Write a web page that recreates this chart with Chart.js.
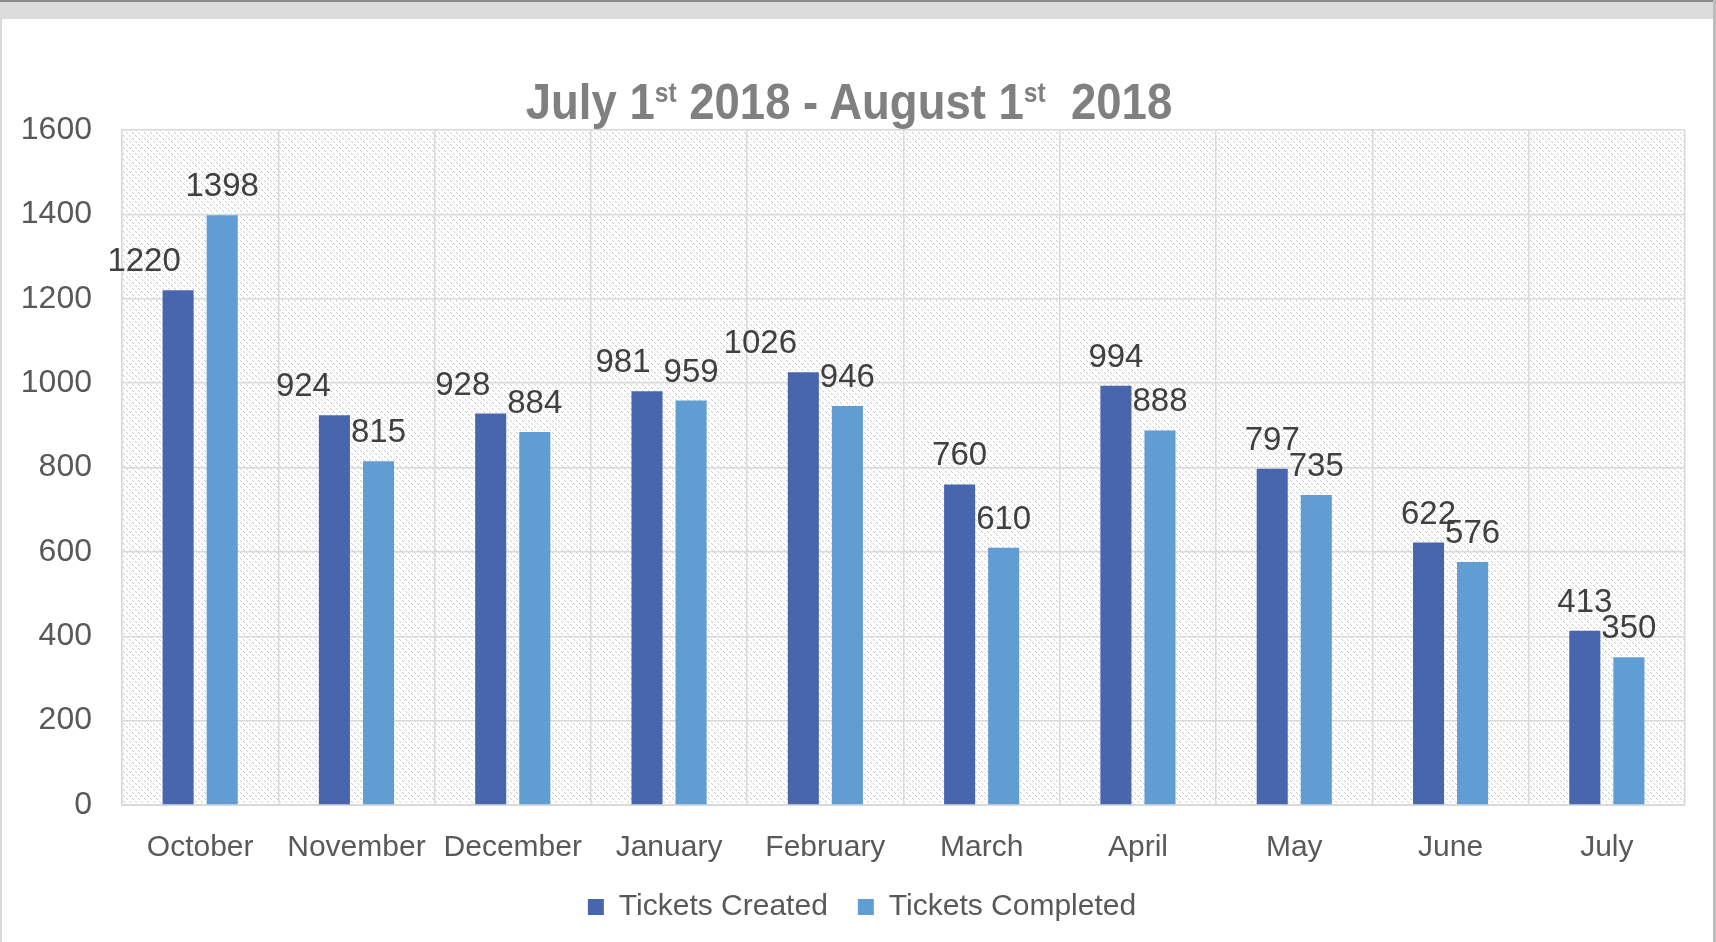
<!DOCTYPE html>
<html>
<head>
<meta charset="utf-8">
<script src="https://cdn.jsdelivr.net/npm/chart.js@4"></script>
<style>
  html, body { margin: 0; padding: 0; background: #ffffff; }
  #wrap { position: relative; width: 1716px; height: 942px; overflow: hidden; background: #fff; }
  #topbar { position: absolute; left: 0; top: 0; width: 1716px; height: 19px; background: #dcdcdc; border-top: 2px solid #8a8a8a; box-sizing: border-box; z-index: 2; }
  #lborder { position: absolute; left: 0; top: 19px; width: 2px; height: 923px; background: #d9d9d9; z-index: 2; }
  #rborder { position: absolute; left: 1713px; top: 0; width: 3px; height: 942px; background: #bdbdbd; z-index: 2; }
  #title { position: absolute; left: 0; top: 72px; width: 1698px; text-align: center; z-index: 2;
    font-family: "Liberation Sans", Arial, sans-serif;
    font-weight: bold; font-size: 50px; line-height: 60px; color: #808080; white-space: pre;
    transform: scaleX(0.91); transform-origin: 849px 0; }
  #title sup { font-size: 27px; vertical-align: baseline; position: relative; top: -17px; }
  canvas { position: absolute; left: 0; top: 0; }
</style>
</head>
<body>
<div id="wrap">
  <div id="topbar"></div>
  <div id="lborder"></div>
  <div id="rborder"></div>
  <div id="title">July 1<sup>st</sup> 2018 - August 1<sup>st</sup>  2018</div>
  <canvas id="c" width="1716" height="942"></canvas>
</div>
<script>
// ---- data ----
const categories = ["October", "November", "December", "January", "February", "March", "April", "May", "June", "July"];
const ticketsCreated = [1220, 924, 928, 981, 1026, 760, 994, 797, 622, 413];
const ticketsCompleted = [1398, 815, 884, 959, 946, 610, 888, 735, 576, 350];
const seriesNames = ["Tickets Created", "Tickets Completed"];
const yTicks = [0, 200, 400, 600, 800, 1000, 1200, 1400, 1600];

// ---- styling (label x-offsets for the "created" value labels, as placed in the original) ----
const createdLabelShift = [-34, -31, -28, -24, -43, 0, 0, 0, 0, 0];
const completedLabelShift = [0, 0, 0, 0, 0, 0, 0, 0, 0, 0];

const FONT = '"Liberation Sans", Arial, sans-serif';

function makePattern(ctx) {
  const t = document.createElement('canvas');
  t.width = 6; t.height = 6;
  const g = t.getContext('2d');
  g.fillStyle = '#ffffff';
  g.fillRect(0, 0, 6, 6);
  g.fillStyle = '#c9c9c9';
  for (let i = 0; i < 6; i++) {
    if (i % 3 !== 2) g.fillRect(i, i, 1, 1);
  }
  return ctx.createPattern(t, 'repeat');
}

const bgPlugin = {
  id: 'hatchBg',
  beforeDraw(chart) {
    const { ctx, chartArea: a } = chart;
    ctx.save();
    ctx.fillStyle = makePattern(ctx);
    ctx.fillRect(a.left, a.top, a.right - a.left, a.bottom - a.top);
    ctx.restore();
  }
};

// centre the legend on the whole chart box (as in the original)
const legendShift = {
  id: 'legendShift',
  afterLayout(chart) {
    if (chart.legend) { chart.legend.left += 39; }
  }
};

const labelPlugin = {
  id: 'valueLabels',
  afterDatasetsDraw(chart) {
    const { ctx } = chart;
    ctx.save();
    ctx.font = '33px ' + FONT;
    ctx.fillStyle = '#404040';
    ctx.textAlign = 'center';
    ctx.textBaseline = 'middle';
    const shifts = [createdLabelShift, completedLabelShift];
    chart.data.datasets.forEach((ds, di) => {
      const meta = chart.getDatasetMeta(di);
      meta.data.forEach((bar, i) => {
        ctx.fillText(String(ds.data[i]), bar.x + shifts[di][i], bar.y - 28);
      });
    });
    ctx.restore();
  }
};

new Chart(document.getElementById('c'), {
  type: 'bar',
  data: {
    labels: categories,
    datasets: [
      { label: seriesNames[0], data: ticketsCreated, backgroundColor: '#4866ae', borderWidth: 0 },
      { label: seriesNames[1], data: ticketsCompleted, backgroundColor: '#5f9dd2', borderWidth: 0 }
    ]
  },
  options: {
    responsive: false,
    animation: false,
    devicePixelRatio: 1,
    categoryPercentage: 0.564,
    barPercentage: 0.705,
    layout: { padding: { left: 0, right: 31, top: 130, bottom: 10 } },
    plugins: {
      title: { display: false },
      tooltip: { enabled: false },
      legend: {
        position: 'bottom',
        labels: {
          boxWidth: 16, boxHeight: 16, padding: 30,
          color: '#595959',
          font: { family: FONT, size: 30 }
        }
      }
    },
    scales: {
      x: {
        grid: { display: true, offset: true, color: '#d9d9d9', lineWidth: 1.5, drawTicks: false },
        border: { display: true, color: '#d9d9d9', width: 2 },
        ticks: { color: '#595959', font: { family: FONT, size: 30 }, padding: 25, maxRotation: 0, autoSkip: false },
        afterFit(scale) { scale.height = 57; }
      },
      y: {
        min: 0, max: 1600,
        afterBuildTicks(scale) { scale.ticks = yTicks.map(v => ({ value: v })); },
        grid: { color: '#d9d9d9', lineWidth: 1.5, drawTicks: false },
        border: { display: true, color: '#d9d9d9', width: 1.5 },
        ticks: { color: '#595959', font: { family: FONT, size: 32 }, padding: 30, callback: v => String(v) },
        afterFit(scale) { scale.width = 122; }
      }
    }
  },
  plugins: [bgPlugin, legendShift, labelPlugin]
});
</script>
</body>
</html>
